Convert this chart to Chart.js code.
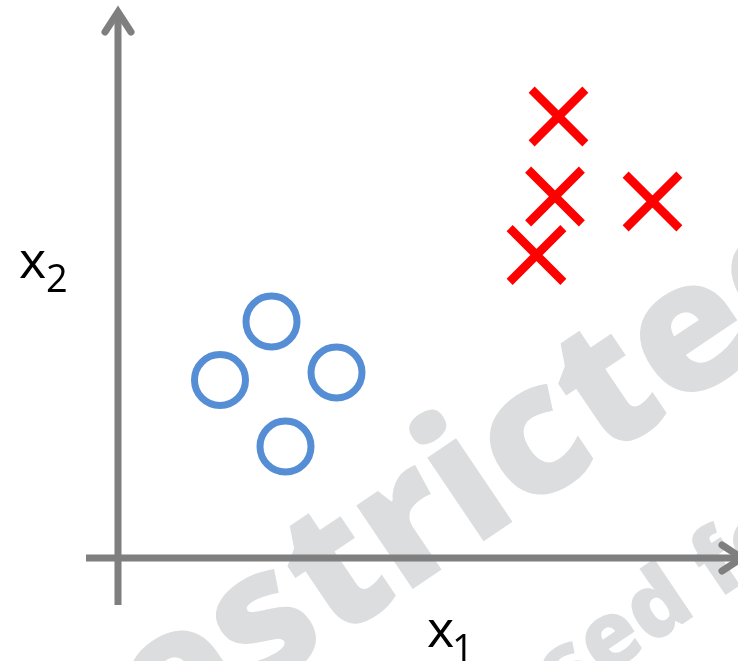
<!DOCTYPE html>
<html>
<head>
<meta charset="utf-8">
<script src="https://cdn.jsdelivr.net/npm/chart.js@4/dist/chart.umd.min.js"></script>
<style>
  html, body { margin: 0; padding: 0; background: #ffffff; }
  #wrap { width: 738px; height: 661px; position: relative; }
</style>
</head>
<body>
<div id="wrap"><canvas id="c"></canvas></div>
<script>
// ---- data ----
const circleX = [3.07, 2.04, 4.37, 3.35];
const circleY = [4.73, 3.56, 3.71, 2.23];
const crossX = [8.81, 8.74, 10.69, 8.37];
const crossY = [8.83, 7.23, 7.13, 6.06];
const axisLabelX = ['x', '1'];
const axisLabelY = ['x', '2'];
const watermarkLines = ['Restricted', 'used for'];

// ---- view range (data units) ----
const xRange = [-2.36, 12.4];
const yRange = [-2.06, 11.16];
const hAxisExtent = [-0.64, 12.48];
const vAxisExtent = [-0.94, 10.92];

const toPoints = (xs, ys) => xs.map((x, i) => ({ x: x, y: ys[i] }));

const AXIS_COLOR = '#7f7f7f';

const watermarkPlugin = {
  id: 'watermark',
  beforeDraw(chart) {
    const ctx = chart.ctx;
    ctx.save();
    ctx.fillStyle = '#dcdddf';
    ctx.textBaseline = 'alphabetic';
    ctx.textAlign = 'left';
    const ang = -34 * Math.PI / 180;
    // line 1: anchor centre of the "c"
    ctx.save();
    const F1 = 182;
    ctx.font = "800 " + F1 + "px 'Open Sans'";
    const t1 = watermarkLines[0];
    const pre1 = ctx.measureText(t1.slice(0, 6)).width;
    const c1 = ctx.measureText(t1[6]).width;
    ctx.translate(536, 447);
    ctx.rotate(ang);
    ctx.fillText(t1, -(pre1 + c1 / 2), 0.535 * F1 / 2);
    ctx.restore();
    // line 2: anchor centre of the "e"
    ctx.save();
    const F2 = 92;
    ctx.font = "800 " + F2 + "px 'Open Sans'";
    const t2 = watermarkLines[1];
    const pre2 = ctx.measureText(t2.slice(0, 2)).width;
    const c2 = ctx.measureText(t2[2]).width;
    ctx.translate(612, 642);
    ctx.rotate(ang);
    ctx.fillText(t2, -(pre2 + c2 / 2), 0.535 * F2 / 2);
    ctx.restore();
    ctx.restore();
  }
};

const axesPlugin = {
  id: 'arrowAxes',
  beforeDatasetsDraw(chart) {
    const ctx = chart.ctx;
    const xs = chart.scales.x, ys = chart.scales.y;
    const ox = xs.getPixelForValue(0), oy = ys.getPixelForValue(0);
    const hx0 = xs.getPixelForValue(hAxisExtent[0]);
    const hx1 = xs.getPixelForValue(hAxisExtent[1]);
    const vy0 = ys.getPixelForValue(vAxisExtent[0]);
    const vy1 = ys.getPixelForValue(vAxisExtent[1]);
    ctx.save();
    ctx.strokeStyle = AXIS_COLOR;
    ctx.lineWidth = 7;
    ctx.lineCap = 'butt';
    ctx.beginPath();
    ctx.moveTo(hx0, oy); ctx.lineTo(hx1 - 3, oy);
    ctx.moveTo(ox, vy0); ctx.lineTo(ox, vy1 + 3);
    ctx.stroke();
    ctx.lineCap = 'round';
    ctx.lineJoin = 'miter';
    ctx.beginPath();
    ctx.moveTo(ox - 13, vy1 + 20); ctx.lineTo(ox, vy1); ctx.lineTo(ox + 13, vy1 + 20);
    ctx.moveTo(hx1 - 20, oy - 13); ctx.lineTo(hx1, oy); ctx.lineTo(hx1 - 20, oy + 13);
    ctx.stroke();

    // axis labels
    ctx.fillStyle = '#000000';
    ctx.textAlign = 'left';
    ctx.textBaseline = 'alphabetic';
    ctx.font = "52px 'Open Sans'";
    ctx.fillText(axisLabelY[0], 19, 278);
    ctx.fillText(axisLabelX[0], 427, 647);
    ctx.font = "38px 'Open Sans'";
    ctx.fillText(axisLabelY[1], 46, 292);
    ctx.fillText(axisLabelX[1], 452, 662);
    ctx.restore();
  }
};

new Chart(document.getElementById('c'), {
  type: 'scatter',
  data: {
    datasets: [
      {
        label: 'class 0',
        data: toPoints(circleX, circleY),
        pointStyle: 'circle',
        pointRadius: 25.5,
        pointHoverRadius: 25.5,
        borderWidth: 7,
        pointBorderWidth: 7,
        borderColor: '#558ed5',
        backgroundColor: 'rgba(0,0,0,0)'
      },
      {
        label: 'class 1',
        data: toPoints(crossX, crossY),
        pointStyle: 'crossRot',
        pointRadius: 38,
        pointHoverRadius: 38,
        borderWidth: 8.5,
        pointBorderWidth: 8.5,
        borderColor: '#ff0000',
        backgroundColor: '#ff0000'
      }
    ]
  },
  options: {
    responsive: true,
    maintainAspectRatio: false,
    animation: false,
    events: [],
    layout: { padding: 0, autoPadding: false },
    plugins: { legend: { display: false }, tooltip: { enabled: false } },
    scales: {
      x: { type: 'linear', display: false, min: xRange[0], max: xRange[1] },
      y: { type: 'linear', display: false, min: yRange[0], max: yRange[1] }
    }
  },
  plugins: [watermarkPlugin, axesPlugin]
});
</script>
</body>
</html>
